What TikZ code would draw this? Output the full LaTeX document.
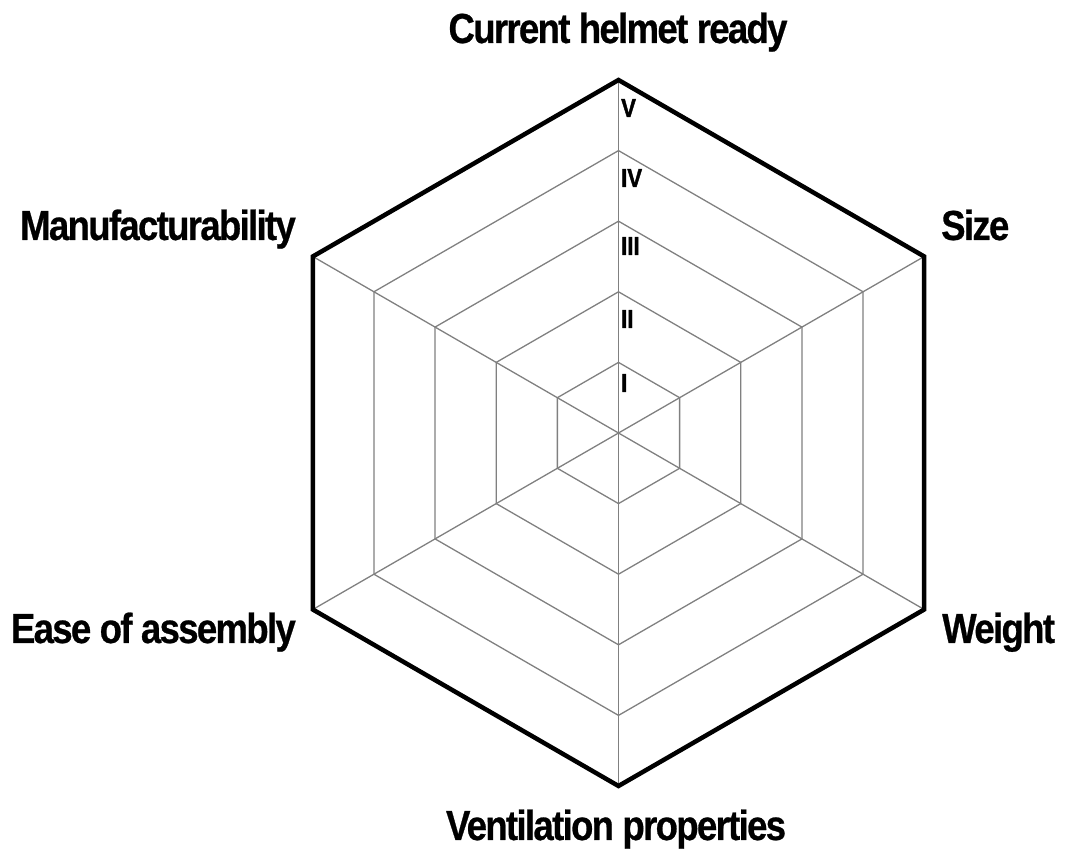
\documentclass[tikz,border=0pt]{standalone}
\usepackage{fontspec}
\usetikzlibrary{calc}
\newfontfamily\labfont[FakeStretch=0.87,LetterSpace=-4,FakeBold=0.6]{Liberation Sans}
\newfontfamily\numfont[FakeStretch=0.85,FakeBold=1.5]{Liberation Sans}
\begin{document}
\begin{tikzpicture}[x=1pt,y=1pt,
  axislabel/.style={inner sep=0pt,font=\labfont\bfseries\fontsize{42}{48}\selectfont},
  ringlabel/.style={inner sep=0pt,anchor=base west,font=\numfont\bfseries\fontsize{26}{30}\selectfont},
  ring/.style={draw=black!50,line width=1.3pt},
  spoke/.style={draw=black!50,line width=1.3pt},
  outer/.style={draw=black,line width=4.5pt,line join=miter}]
\useasboundingbox (0,0) rectangle (1069,857);
\coordinate (c) at (618.5,424);
\foreach \r/\n in {70.6/1,141.2/2,211.8/3,282.4/4,353/5}{
  \foreach \a/\k in {90/a,30/b,-30/c,-90/d,-150/e,150/f}{
    \coordinate (r\n\k) at ($(c)+(\a:\r)$);
  }
}
\foreach \k in {a,b,c,d,e,f}{ \draw[spoke] (c) -- (r5\k); }
\foreach \n in {1,2,3,4}{
  \draw[ring] (r\n a) -- (r\n b) -- (r\n c) -- (r\n d) -- (r\n e) -- (r\n f) -- cycle;
}
\draw[outer] (r5a) -- (r5b) -- (r5c) -- (r5d) -- (r5e) -- (r5f) -- cycle;
\node[ringlabel] (nV) at (621,740) {V};
\node[ringlabel] (nIV) at (621,670) {IV};
\node[ringlabel] (nIII) at (621,602) {III};
\node[ringlabel] (nII) at (621,529) {II};
\node[ringlabel] (nI) at (621,465) {I};
\node[axislabel,anchor=base] (top) at (618,814) {Current helmet ready};
\node[axislabel,anchor=base west] (size) at (941,617) {Size};
\node[axislabel,anchor=base east] (manu) at (296,617) {Manufacturability};
\node[axislabel,anchor=base west] (weight) at (942,214) {Weight};
\node[axislabel,anchor=base east] (ease) at (296,214) {Ease of assembly};
\node[axislabel,anchor=base] (vent) at (616,17) {Ventilation properties};
\end{tikzpicture}
\end{document}
